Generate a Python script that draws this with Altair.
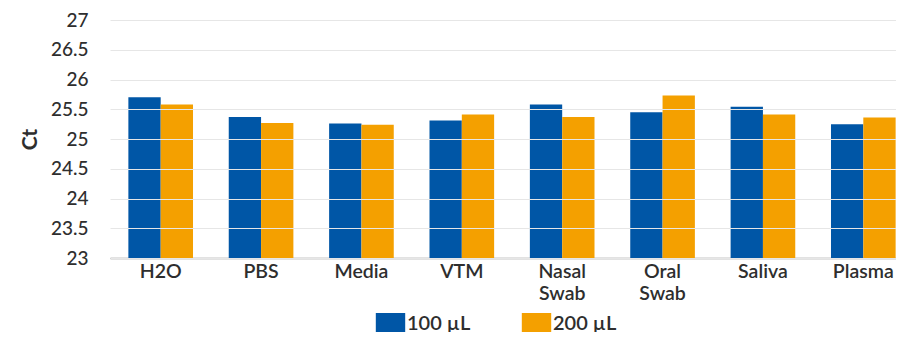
import altair as alt
import pandas as pd

categories = ["H2O", "PBS", "Media", "VTM", "Nasal Swab", "Oral Swab", "Saliva", "Plasma"]
series = ["100 µL", "200 µL"]
vals_100 = [25.70, 25.37, 25.26, 25.31, 25.58, 25.45, 25.54, 25.25]
vals_200 = [25.58, 25.27, 25.24, 25.41, 25.37, 25.73, 25.41, 25.36]
y_ticks = [23, 23.5, 24, 24.5, 25, 25.5, 26, 26.5, 27]
colors = ["#0056A6", "#F4A000"]

rows = []
for c, a, b in zip(categories, vals_100, vals_200):
    rows.append({"cat": c, "series": series[0], "ct": a})
    rows.append({"cat": c, "series": series[1], "ct": b})
df = pd.DataFrame(rows)

FONT = "Lato"
TXT = "#2e2e2e"
W = 600

chart = alt.Chart(df).mark_bar().encode(
    x=alt.X(
        "cat:N", sort=categories, title=None,
        scale=alt.Scale(paddingInner=0.356, paddingOuter=0.183, range=[0, 804]),
        axis=alt.Axis(labelAngle=0, labelExpr="split(datum.label, ' ')", ticks=False,
                      domainColor="#8c8c8c", domainWidth=1.5, labelFontSize=19.5,
                      labelFontWeight=W, labelColor=TXT, labelFont=FONT, labelPadding=4,
                      labelLineHeight=22, labelBaseline="top"),
    ),
    xOffset=alt.XOffset("series:N", sort=series, scale=alt.Scale(paddingInner=0, paddingOuter=0)),
    y=alt.Y(
        "ct:Q", scale=alt.Scale(domain=[23, 27], zero=False, nice=False),
        axis=alt.Axis(values=y_ticks, format="~g", title="Ct", domain=False, ticks=False,
                      grid=True, gridColor="#e6e6e6", gridWidth=1, zindex=1,
                      labelFontSize=19, labelFontWeight=500, labelColor=TXT, labelFont=FONT,
                      labelPadding=22,
                      titleFont=FONT, titleFontSize=21, titleFontWeight="bold", titleColor=TXT,
                      titlePadding=10),
    ),
    y2=alt.datum(23),
    color=alt.Color(
        "series:N", sort=series, scale=alt.Scale(domain=series, range=colors),
        legend=alt.Legend(title=None, orient="none", legendX=270, legendY=293,
                          direction="horizontal",
                          symbolType="M-1.4,-1H1.4V1H-1.4Z", symbolSize=441,
                          symbolStrokeWidth=0, symbolOpacity=1,
                          labelFontSize=20, labelFontWeight=W, labelFont=FONT, labelColor=TXT,
                          labelOffset=6, columnPadding=50),
    ),
).properties(
    width=786, height=238,
    autosize=alt.AutoSizeParams(type="none"),
    padding={"left": 102, "top": 12, "right": 0, "bottom": 74},
).configure_view(stroke=None)

chart.save("out.html", embed_options={"renderer": "svg", "actions": False})
